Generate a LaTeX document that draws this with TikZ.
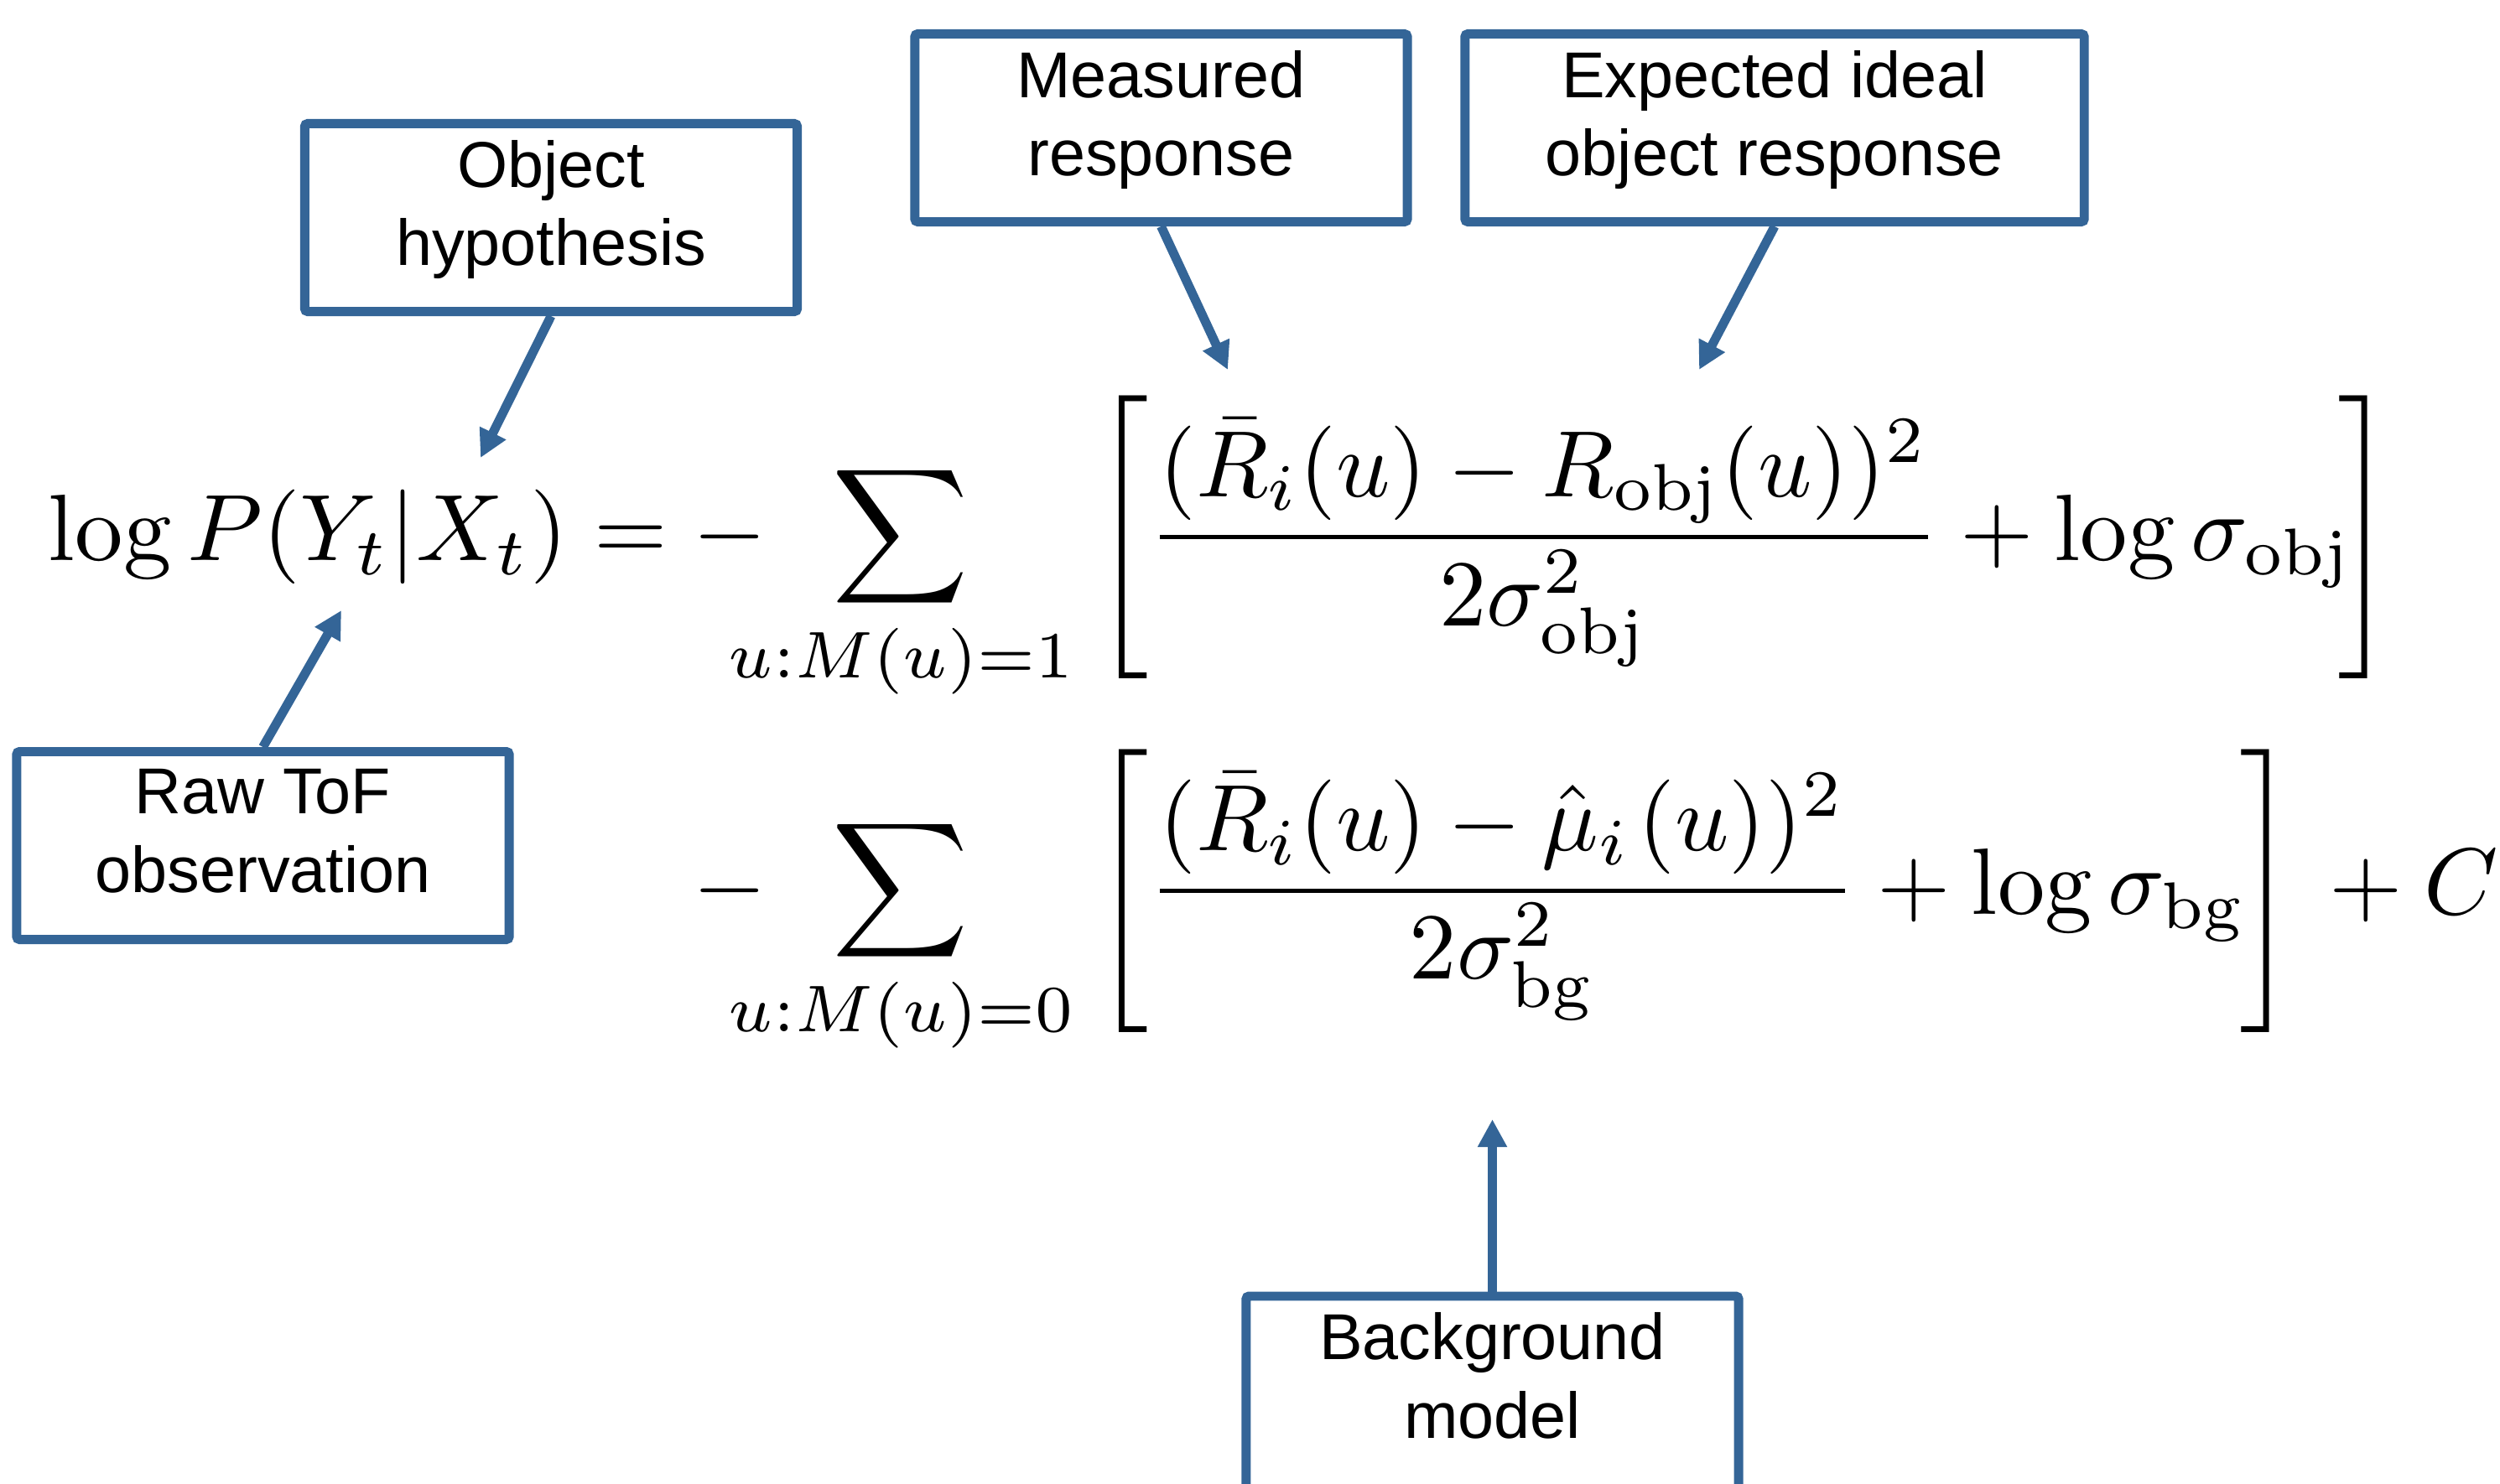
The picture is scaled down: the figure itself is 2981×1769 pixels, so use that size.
\documentclass[tikz,border=0pt]{standalone}
\usepackage{fontspec}
\usepackage{amsmath,mathtools}
\newfontfamily\boxfont{Liberation Sans}
\usetikzlibrary{arrows.meta}
\definecolor{bblue}{RGB}{52,101,151}
\begin{document}
\begin{tikzpicture}[x=0.01cm,y=-0.01cm,
  box/.style={draw=bblue, line width=3.1pt, rounded corners=1pt, fill=white,
    minimum width=5.87cm, minimum height=2.24cm, inner sep=0pt, text depth=10pt,
    align=center, font=\boxfont\fontsize{22}{26.5}\selectfont},
  arr/.style={draw=bblue, line width=3.1pt, -{Triangle[length=3.3mm,width=3.3mm]}}]
\useasboundingbox (0,0) rectangle (2981,1769);
% formula
\node[inner sep=0pt, anchor=west] (eq) at (57,866.5) {\scalebox{3.2}{$\begin{aligned}
\mathord{\scalebox{1.02}[1]{$\log P(Y_t|X_t)$}} &= -\mkern-10.3mu\sum_{u:M(u)=1}\mkern0.9mu\left[\frac{(\bar{R}_i(u)-R_{\mathrm{obj}}(u))^2}{2\sigma_{\mathrm{obj}}^2}+\log\sigma_{\mathrm{obj}}\mkern-2.5mu\right]\\[0.8pt]
&\mathrel{\phantom{=}} -\mkern-10.3mu\sum_{u:M(u)=0}\mkern0.9mu\left[\frac{(\bar{R}_i(u)-\hat{\mu}_i\mkern1.5mu(u))^2}{2\sigma_{\mathrm{bg}}^2}+\log\sigma_{\mathrm{bg}}\mkern-1mu\right]\mkern2.5mu+C
\end{aligned}$}};
% boxes
\node[box] (obj) at (657,259.5) {Object\\hypothesis};
\node[box] (meas) at (1384.5,152.5) {Measured\\response};
\node[box, minimum width=7.38cm] (exp) at (2116,152.5) {Expected ideal\\object response};
\node[box] (raw) at (313.5,1008.5) {Raw ToF\\observation};
\node[box, minimum height=2.4cm, text depth=14.5pt] (bg) at (1779.5,1666) {Background\\model};
% arrow tips
\coordinate (tobj) at (573,546);
\coordinate (traw) at (407,728);
\coordinate (tmeas) at (1464,441);
\coordinate (texp) at (2026,441);
\coordinate (tbg) at (1779.5,1335);
\draw[arr] (obj.south) -- (tobj);
\draw[arr] (raw.north) -- (traw);
\draw[arr] (meas.south) -- (tmeas);
\draw[arr] (exp.south) -- (texp);
\draw[arr] (bg.north) -- (tbg);
\end{tikzpicture}
\end{document}
